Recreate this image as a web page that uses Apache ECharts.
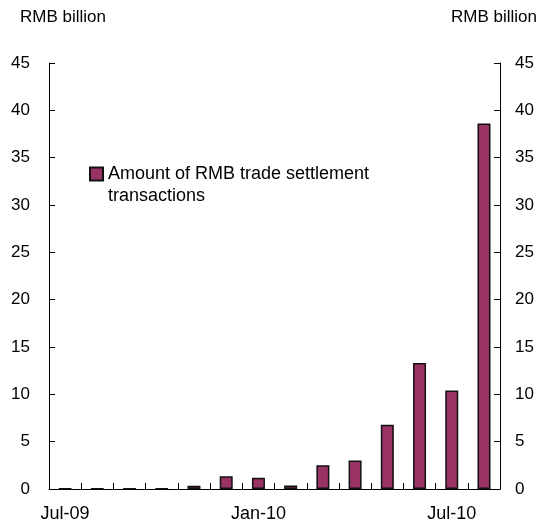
<!DOCTYPE html>
<html>
<head>
<meta charset="utf-8">
<script src="https://cdn.jsdelivr.net/npm/echarts@6/dist/echarts.min.js"></script>
<style>
  html, body { margin: 0; padding: 0; background: #fff; }
  #chart { width: 537px; height: 526px; }
</style>
</head>
<body>
<div id="chart"></div>
<script>
// months, Jul-09 .. Aug-10
var months = ['Jul-09', 'Aug-09', 'Sep-09', 'Oct-09', 'Nov-09', 'Dec-09',
              'Jan-10', 'Feb-10', 'Mar-10', 'Apr-10', 'May-10', 'Jun-10', 'Jul-10', 'Aug-10'];
// RMB trade settlement amount, RMB billion
var settlement = [0.03, 0.03, 0.03, 0.03, 0.35, 1.35, 1.2, 0.38, 2.5, 3.0, 6.8, 13.3, 10.4, 38.6];
var yTicks = [0, 45, 5]; // min, max, step

var chart = echarts.init(document.getElementById('chart'));
var font = 'Liberation Sans, Arial, sans-serif';

var yAxisBase = function (pos, margin) {
  return {
    type: 'value',
    position: pos,
    min: yTicks[0],
    max: yTicks[1],
    interval: yTicks[2],
    splitLine: { show: false },
    axisLine: { show: true, lineStyle: { color: '#000', width: 1 } },
    axisTick: { show: true, inside: true, length: 6, lineStyle: { color: '#000' } },
    axisLabel: { color: '#000', fontSize: 17, fontFamily: font, margin: margin }
  };
};

var titleStyle = { fontSize: 17, fontWeight: 'normal', color: '#000', fontFamily: font };

var option = {
  animation: false,
  grid: { left: 49, right: 32, top: 63, bottom: 37 },
  title: [
    { text: 'RMB billion', left: 20, top: 9, padding: 0, textStyle: titleStyle },
    { text: 'RMB billion', right: 0, top: 9, padding: 0, textStyle: titleStyle }
  ],
  legend: {
    left: 84,
    top: 136,
    icon: 'rect',
    itemWidth: 13,
    itemHeight: 13,
    // empty first line keeps the first text line level with the swatch
    formatter: function () { return ' \nAmount of RMB trade settlement\ntransactions'; },
    textStyle: { fontSize: 18, color: '#000', fontFamily: font, lineHeight: 22 },
    data: ['Amount of RMB trade settlement transactions']
  },
  xAxis: {
    type: 'category',
    data: months,
    boundaryGap: true,
    axisLine: { show: true, lineStyle: { color: '#000' } },
    axisTick: { show: true, inside: true, length: 6, interval: 0, alignWithLabel: false, lineStyle: { color: '#000' } },
    axisLabel: { interval: 5, color: '#000', fontSize: 18, fontFamily: font, margin: 16 }
  },
  yAxis: [yAxisBase('left', 19), yAxisBase('right', 15)],
  series: [{
    name: 'Amount of RMB trade settlement transactions',
    type: 'bar',
    data: settlement,
    barWidth: 13,
    itemStyle: { color: '#993366', borderColor: '#111', borderWidth: 1.5 }
  }]
};
chart.setOption(option);
</script>
</body>
</html>
